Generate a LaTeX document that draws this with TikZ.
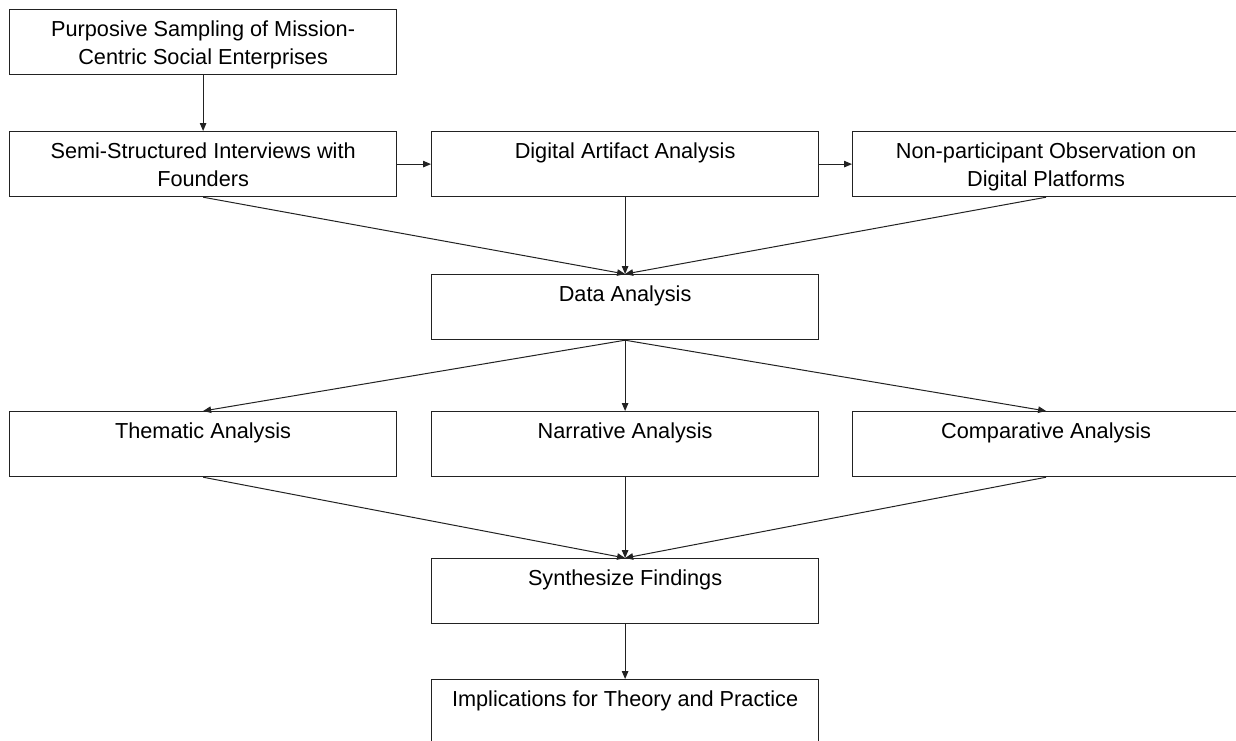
\documentclass[tikz,border=0pt]{standalone}
\usepackage{fontspec}
\setmainfont{Liberation Sans}
\usetikzlibrary{arrows.meta}
\definecolor{linegray}{HTML}{222222}
\begin{document}
\begin{tikzpicture}[x=1pt,y=-1pt,
  box/.style={draw=linegray, line width=1.2pt, minimum width=387pt, minimum height=65pt, inner sep=0pt, anchor=north west},
  lbl/.style={anchor=north, inner sep=0pt, align=center, font=\fontsize{21.7}{28}\selectfont, yshift=-12pt},
  arr/.style={draw=linegray, line width=1pt, -{Triangle[length=8pt,width=6.5pt]}}]
\useasboundingbox (0,0) rectangle (1236,740);
% boxes
\node[box] (b1) at (9,9) {};
\node[box] (b2) at (9,131) {};
\node[box] (b3) at (431,131) {};
\node[box] (b4) at (852,131) {};
\node[box] (da) at (431,274) {};
\node[box] (th) at (9,411) {};
\node[box] (na) at (431,411) {};
\node[box] (co) at (852,411) {};
\node[box] (sy) at (431,558) {};
\node[box] (im) at (431,679) {};
% labels
\node[lbl] (b1t) at (b1.north) {Purposive Sampling of Mission-\\Centric Social Enterprises};
\node[lbl] (b2t) at (b2.north) {Semi-Structured Interviews with\\Founders};
\node[lbl] (b3t) at (b3.north) {Digital Artifact Analysis};
\node[lbl] (b4t) at (b4.north) {Non-participant Observation on\\Digital Platforms};
\node[lbl] (dat) at (da.north) {Data Analysis};
\node[lbl] (tht) at (th.north) {Thematic Analysis};
\node[lbl] (nat) at (na.north) {Narrative Analysis};
\node[lbl] (cot) at (co.north) {Comparative Analysis};
\node[lbl] (syt) at (sy.north) {Synthesize Findings};
\node[lbl] (imt) at (im.north) {Implications for Theory and Practice};
% connectors
\draw[arr] (b1.south) -- (b2.north);
\draw[arr] (b2.east) -- (b3.west);
\draw[arr] (b3.east) -- (b4.west);
\draw[arr] (b2.south) -- (da.north);
\draw[arr] (b3.south) -- (da.north);
\draw[arr] (b4.south) -- (da.north);
\draw[arr] (da.south) -- (th.north);
\draw[arr] (da.south) -- (na.north);
\draw[arr] (da.south) -- (co.north);
\draw[arr] (th.south) -- (sy.north);
\draw[arr] (na.south) -- (sy.north);
\draw[arr] (co.south) -- (sy.north);
\draw[arr] (sy.south) -- (im.north);
\end{tikzpicture}
\end{document}
